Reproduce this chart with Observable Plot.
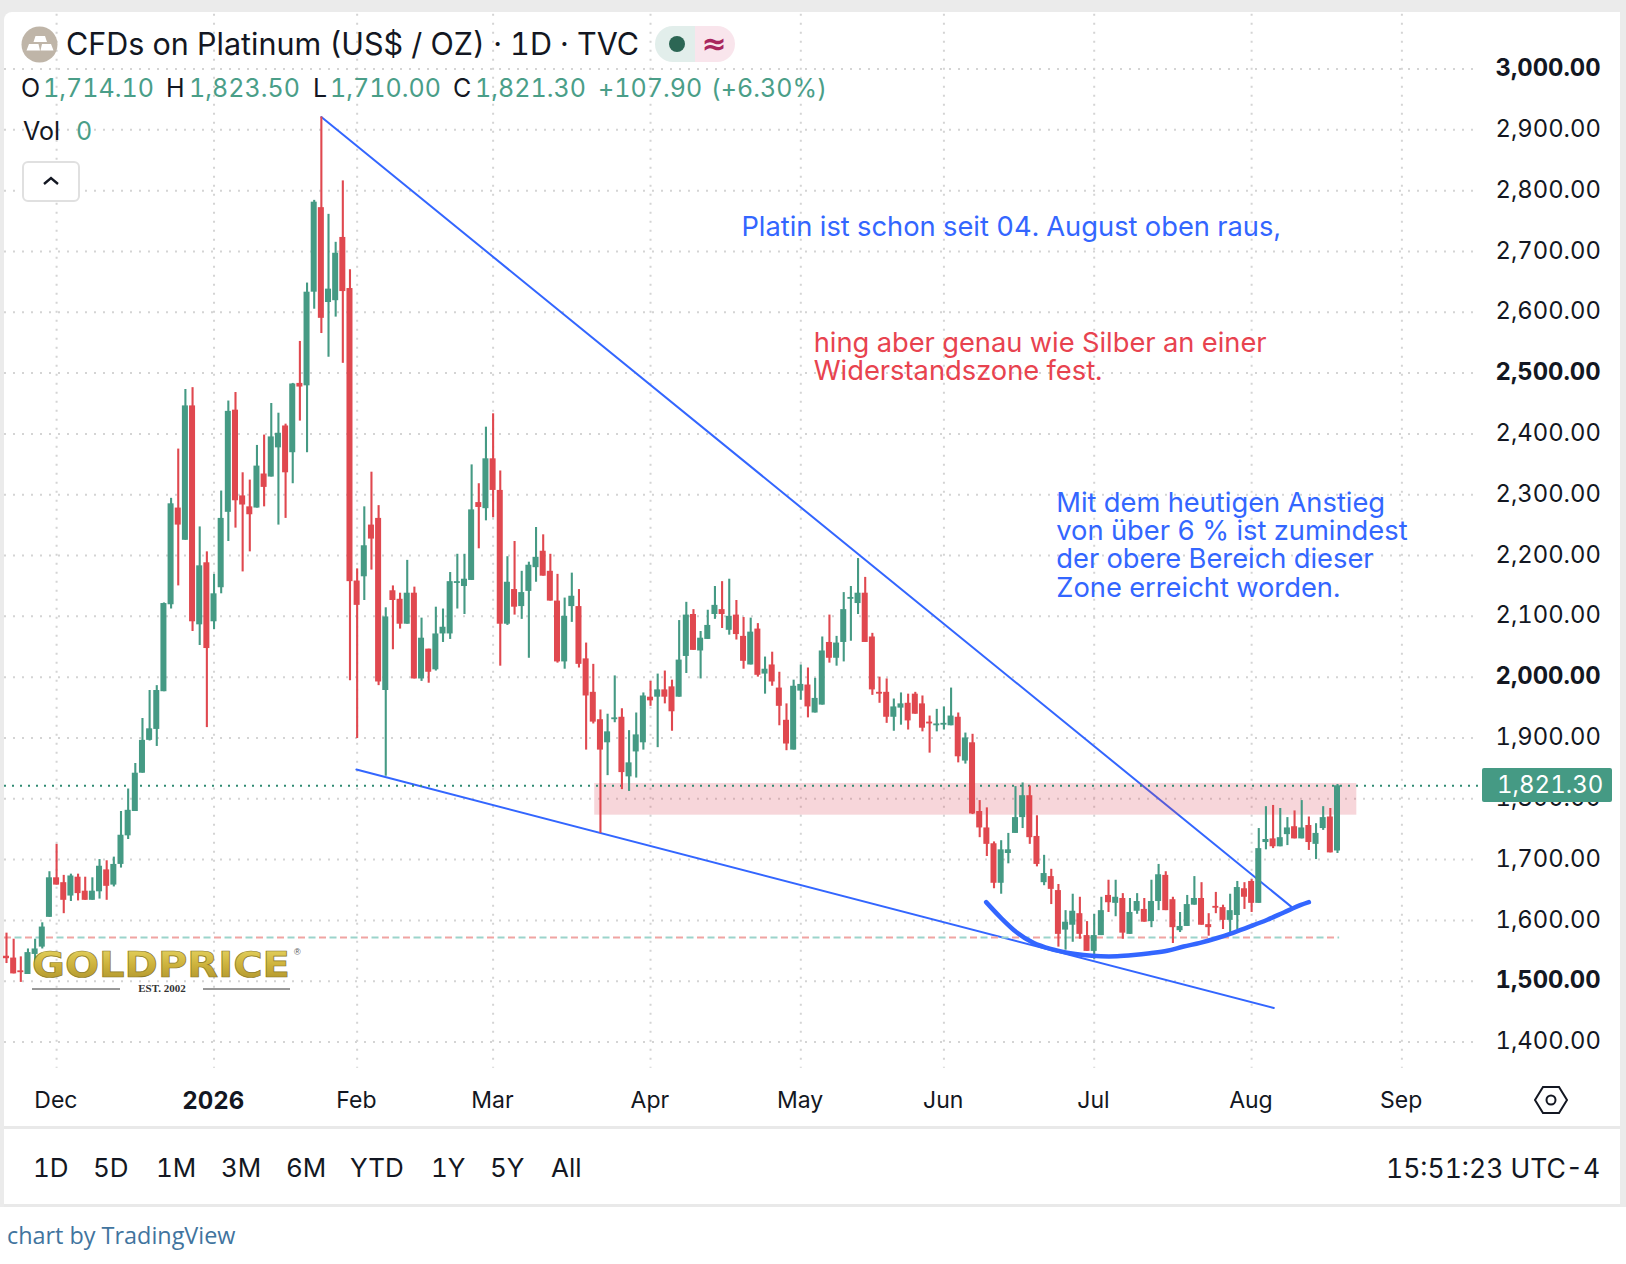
<!DOCTYPE html>
<html><head><meta charset="utf-8">
<script src="https://cdn.jsdelivr.net/npm/d3@7"></script>
<script src="https://cdn.jsdelivr.net/npm/@observablehq/plot@0.6"></script>
<style>
html,body{margin:0;padding:0;background:#fff}
body{font-family:Inter,"Liberation Sans",sans-serif;color:#131722;font-variant-numeric:tabular-nums}
#page{position:relative;width:1626px;height:1264px;overflow:hidden}
#frame{position:absolute;left:0;top:0;width:1626px;height:1207px;background:#ebebeb}
#panel{position:absolute;left:4px;top:12px;width:1616px;height:1193px;background:#fff;border-top-left-radius:8px}
#chart{position:absolute;left:0;top:0}
#chart svg{background:transparent !important;display:block}
.t{position:absolute;white-space:nowrap;line-height:1}
.sep{position:absolute;left:4px;width:1616px;height:3px;background:#e9e9e9}
.g{color:#4a9e88}
</style></head>
<body><div id="page">
<div id="frame"><div id="panel"></div></div>
<div id="chart"></div>
<div class="sep" style="top:1126px"></div>

<svg class="t" style="left:21px;top:26px" width="37" height="37" viewBox="0 0 37 37">
<circle cx="18.5" cy="18.5" r="18" fill="#bfb5a8"/>
<path d="M14.5 10H24L26 16H12.5ZM8 18H17.5L19 24.5H5.5ZM21 18H30L32.5 24.5H19.5Z" fill="#fff"/>
</svg>
<div class="t" id="title" style="left:66px;top:29px;font-size:30.5px">CFDs on Platinum (US$ / OZ) · 1D · TVC</div>
<svg class="t" style="left:655px;top:26px" width="80" height="36">
<path d="M18 0H40V36H18A18 18 0 0 1 18 0Z" fill="#e2eeeb"/>
<path d="M40 0H62A18 18 0 0 1 62 36H40Z" fill="#f9e5ec"/>
<circle cx="22" cy="18" r="8" fill="#2c6654"/>
<text x="59" y="28" font-size="30" font-weight="700" text-anchor="middle" fill="#a8265e" font-family="DejaVu Sans">≈</text>
</svg>
<div id="ohlc"></div>
<svg class="t" style="left:22px;top:161px" width="58" height="41">
<rect x="1" y="1" width="56" height="39" rx="5" fill="#fff" stroke="#e0e0e0" stroke-width="2"/>
<path d="M22 23l7-6 7 6" fill="none" stroke="#131722" stroke-width="2.4"/>
</svg>

<div class="t" style="left:1482px;top:768px;width:130px;height:34px;background:#459a84;border-radius:2px"></div>
<div class="t" id="lastLabel" style="left:1497px;top:773px;font-size:24px;color:#fff"></div>

<svg class="t" style="left:1533px;top:1084px" width="36" height="32" viewBox="0 0 36 32">
<path d="M10 3H26L34 16L26 29H10L2 16Z" fill="none" stroke="#131722" stroke-width="2"/>
<circle cx="18" cy="16" r="4.5" fill="none" stroke="#131722" stroke-width="2"/>
</svg>

<svg class="t" style="left:26px;top:940px" width="280" height="60">
<defs><linearGradient id="gold" x1="0" y1="0" x2="0" y2="1">
<stop offset="0" stop-color="#e8d764"/><stop offset=".5" stop-color="#cdb23c"/><stop offset="1" stop-color="#a98f2a"/></linearGradient></defs>
<text x="6" y="37" font-family="DejaVu Sans" font-weight="700" font-size="35" textLength="258" lengthAdjust="spacingAndGlyphs" fill="url(#gold)" stroke="#8c7a26" stroke-width=".7">GOLDPRICE</text>
<text x="268" y="15" font-size="9" font-family="Liberation Sans" fill="#555">®</text>
<text x="136" y="52" font-size="11" text-anchor="middle" font-family="Liberation Serif" font-weight="700" fill="#333">EST. 2002</text>
<line x1="6" x2="94" y1="49" y2="49" stroke="#333" stroke-width="1"/>
<line x1="177" x2="264" y1="49" y2="49" stroke="#333" stroke-width="1"/>
</svg>

<div class="sep" style="top:1204px"></div>
<div id="ranges"></div>
<div class="t" style="left:1386px;top:1155px;font-size:26.5px">15:51:23 UTC-4</div>
<div class="t" style="left:7px;top:1224px;font-family:'Open Sans';font-size:23.4px;color:#41749e">chart by TradingView</div>
</div>
<script>
const opens=[1541,1538,1517,1511,1544,1556,1605,1670,1662,1640,
1671,1648,1633,1647,1683,1658,1692,1739,1779,1842,
1896,1914,1976,2119,2278,2225,2446,2086,2188,2091,
2147,2271,2439,2298,2280,2278,2334,2329,2377,2413,
2369,2483,2479,2633,2772,2616,2619,2723,2639,2158,
2165,2250,2261,1978,2142,2128,2087,2138,1997,2046,
2012,2071,2071,2154,2149,2159,2287,2277,2359,2307,
2087,2144,2116,2141,2180,2207,2174,2125,2025,2116,
2116,2030,1975,1930,1892,1930,1934,1836,1877,1892,
1967,1967,1979,1984,1967,2034,2103,2043,2062,2103,
2111,2077,2102,2067,2020,2079,2005,2020,1982,1929,
1880,1977,1987,1941,1954,2057,2031,2057,2128,2121,
2138,2066,1975,1975,1934,1949,1957,1972,1956,1926,
1920,1921,1920,1934,1862,1892,1779,1752,1726,1661,
1710,1743,1769,1805,1738,1662,1672,1649,1584,1592,
1611,1575,1549,1575,1641,1628,1636,1577,1615,1618,
1598,1631,1674,1634,1583,1590,1625,1636,1593,1623,
1621,1600,1608,1652,1664,1628,1728,1734,1721,1741,
1754,1734,1756,1725,1751,1770,1714.1];
const closes=[1537,1512,1514,1547,1553,1589,1670,1658,1633,1673,
1644,1633,1648,1689,1656,1692,1740,1781,1842,1896,
1915,1978,2121,2285,2250,2446,2091,2183,2047,2137,
2261,2437,2290,2283,2267,2347,2312,2395,2401,2336,
2482,2477,2633,2781,2590,2638,2697,2634,2157,2118,
2216,2227,1992,2099,2126,2087,2138,1997,2064,2008,
2071,2082,2157,2157,2161,2275,2279,2359,2307,2087,
2156,2115,2139,2184,2197,2166,2125,2025,2100,2133,
2021,1969,1926,1880,1910,1933,1843,1859,1905,1969,
1961,1979,1967,1943,2028,2102,2044,2064,2085,2118,
2103,2100,2070,2026,2074,2003,2013,1992,1952,1890,
1985,1988,1951,1965,2043,2031,2056,2111,2131,2138,
2057,1979,1972,1934,1951,1956,1928,1939,1916,1923,
1923,1924,1936,1869,1900,1775,1752,1725,1661,1716,
1716,1769,1805,1736,1692,1677,1651,1577,1597,1615,
1577,1549,1575,1616,1629,1638,1579,1613,1631,1597,
1631,1675,1616,1588,1590,1626,1636,1592,1588,1620,
1600,1616,1654,1638,1628,1718,1733,1721,1736,1752,
1734,1752,1728,1743,1769,1711,1821.3];
const highs=[1579,1569,1540,1553,1569,1596,1680,1725,1674,1676,
1676,1671,1670,1700,1698,1704,1779,1816,1858,1932,
1978,1986,2122,2294,2375,2473,2476,2247,2206,2169,
2306,2454,2468,2336,2324,2381,2398,2450,2434,2416,
2483,2552,2648,2784,2921,2761,2715,2816,2670,2178,
2280,2337,2282,2114,2150,2138,2192,2148,2097,2046,
2115,2112,2172,2202,2202,2349,2318,2411,2433,2339,
2198,2223,2174,2189,2246,2234,2202,2169,2130,2171,
2144,2056,2021,1946,1939,2002,1948,1912,1941,1974,
1993,2005,2010,1995,2093,2123,2111,2075,2110,2149,
2157,2161,2126,2098,2097,2088,2033,2041,2008,1956,
1995,2020,2015,1998,2066,2102,2067,2139,2149,2195,
2164,2072,2000,1997,1964,1974,1972,1975,1969,1936,
1947,1951,1982,1941,1908,1906,1797,1785,1729,1731,
1743,1820,1826,1821,1772,1707,1684,1659,1616,1643,
1638,1598,1610,1638,1666,1666,1644,1636,1644,1636,
1666,1692,1680,1638,1613,1641,1672,1662,1611,1646,
1625,1643,1664,1662,1667,1751,1787,1789,1784,1769,
1780,1797,1770,1759,1787,1784,1823.5];
const lows=[1529,1512,1498,1511,1530,1553,1605,1658,1611,1631,
1632,1633,1633,1635,1633,1655,1686,1733,1779,1842,
1895,1886,1976,2112,2150,2225,2075,2052,1917,2078,
2137,2223,2245,2173,2206,2278,2280,2329,2250,2261,
2318,2421,2369,2605,2565,2526,2592,2516,1994,1899,
2126,2176,1986,1837,2045,2079,2087,1997,1993,1990,
2010,2057,2062,2112,2103,2159,2211,2257,2262,2018,
2085,2102,2095,2031,2156,2166,2125,2023,2013,2090,
2015,1880,1923,1743,1838,1925,1815,1812,1834,1880,
1952,1884,1956,1911,1967,2006,2044,1997,2062,2095,
2080,2069,2061,2013,2020,2000,1972,1985,1920,1879,
1880,1962,1933,1941,1954,2023,2018,2025,2059,2103,
2057,1970,1957,1924,1911,1921,1913,1939,1910,1875,
1910,1913,1920,1859,1857,1774,1736,1705,1652,1643,
1693,1743,1751,1725,1688,1657,1626,1556,1551,1564,
1569,1549,1536,1575,1613,1606,1569,1577,1610,1597,
1588,1616,1616,1562,1580,1590,1625,1592,1574,1611,
1585,1577,1585,1618,1613,1628,1716,1718,1721,1723,
1734,1734,1715,1700,1748,1711,1710];

const yRegular=[1400,1600,1700,1800,1900,2100,2200,2300,2400,2600,2700,2800,2900];
const yBold=[1500,2000,2500,3000];
const monthIdx=[7,49,68,90,111,131,152,174,195];
const monthLabels=["Dec","Feb","Mar","Apr","May","Jun","Jul","Aug","Sep"];
const yearIdx=[29];
const yearLabels=["2026"];

const lastPrice=1821.3;
const prevLine=1572;
const zoneIdx=[82.2,188.7];
const zonePrice=[1773,1825];

const upperTrendIdx=[44,179.7];
const upperTrendPrice=[2921,1621];
const lowerTrendIdx=[48.9,177.1];
const lowerTrendPrice=[1848,1456];
const arcIdx=[136.9,138.9,141.2,143.5,145.9,148.2,150.5,152.9,155.2,157.5,159.8,162.2,164.5,166.8,169.2,171.5,173.8,176.2,178.5,180.8,182];
const arcPrice=[1630,1605,1580,1563,1553,1547,1543,1541,1541,1543,1546,1550,1557,1563,1571,1580,1590,1601,1613,1625,1630];

const noteText=["Platin ist schon seit 04. August oben raus,","hing aber genau wie Silber an einer","Widerstandszone fest.","Mit dem heutigen Anstieg","von über 6 % ist zumindest","der obere Bereich dieser","Zone erreicht worden."];
const noteIdx=[102.7,112.8,112.8,146.7,146.7,146.7,146.7];
const notePrice=[2742,2551,2505,2288,2242,2195,2148];
const noteColor=["#3366ff","#e8434f","#e8434f","#3366ff","#3366ff","#3366ff","#3366ff"];

const ohlcLabels=[["O",21,"k"],["1,714.10",43,"g"],["H",166,"k"],["1,823.50",189,"g"],["L",313,"k"],["1,710.00",330,"g"],["C",453,"k"],["1,821.30",475,"g"],["+107.90",598,"g"],["(+6.30%)",711,"g"]];
const rangeLabels=[["1D",33],["5D",93],["1M",156],["3M",221],["6M",286],["YTD",350],["1Y",431],["5Y",490],["All",551]];

const UP="#459a84",DOWN="#e0484f",BLUE="#3366ff",GRID="#d4d4d4";
const candles=opens.map((o,i)=>({i,o,c:closes[i],h:highs[i],l:lows[i],col:closes[i]>=o?UP:DOWN}));
const gridLeft=-0.28,gridRight=205.7,gridTop=3090,gridBottom=1357;
const priceFmt=d=>d3.format(",.2f")(d);

const plot=Plot.plot({
  width:1626,height:1264,
  marginLeft:0,marginTop:0,marginRight:136,marginBottom:184,
  x:{type:"linear",domain:[0,195],range:[6,1401.4]},
  y:{type:"linear",domain:[1400,3000],range:[1041.5,68.5]},
  style:{fontFamily:"Inter",background:"transparent",color:"#131722",fontVariantNumeric:"tabular-nums"},
  marks:[
    Plot.ruleY([...yRegular,...yBold],{x1:gridLeft,x2:gridRight,stroke:GRID,strokeWidth:2,strokeDasharray:"2 7"}),
    Plot.ruleX([...monthIdx,...yearIdx],{y1:gridTop,y2:gridBottom,stroke:GRID,strokeWidth:2,strokeDasharray:"2 7"}),
    Plot.line(upperTrendIdx.map((x,i)=>({x,y:upperTrendPrice[i]})),{x:"x",y:"y",stroke:BLUE,strokeWidth:2}),
    Plot.line(lowerTrendIdx.map((x,i)=>({x,y:lowerTrendPrice[i]})),{x:"x",y:"y",stroke:BLUE,strokeWidth:2}),
    Plot.rect([{}],{x1:zoneIdx[0],x2:zoneIdx[1],y1:zonePrice[0],y2:zonePrice[1],fill:"#db3f52",fillOpacity:.21}),
    Plot.ruleY([prevLine],{x1:gridLeft,x2:186.3,stroke:"#f0a4a2",strokeWidth:2,strokeDasharray:"7 14"}),
    Plot.ruleY([prevLine],{x1:gridLeft+1.47,x2:186.3,stroke:"#9bd4cb",strokeWidth:2,strokeDasharray:"7 14"}),
    Plot.ruleY([lastPrice],{x1:gridLeft,x2:gridRight,stroke:"#2f8a72",strokeWidth:2,strokeDasharray:"2 6"}),
    Plot.ruleX(candles,{x:"i",y1:"l",y2:"h",stroke:"col",strokeWidth:2.1}),
    Plot.rect(candles,{x1:d=>d.i-.42,x2:d=>d.i+.42,y1:"o",y2:"c",fill:"col"}),
    Plot.line(arcIdx.map((x,i)=>({x,y:arcPrice[i]})),{x:"x",y:"y",stroke:BLUE,strokeWidth:4.5,curve:"catmull-rom"}),
    Plot.text(noteText,{x:(d,i)=>noteIdx[i],y:(d,i)=>notePrice[i],text:d=>d,fill:(d,i)=>noteColor[i],textAnchor:"start",lineAnchor:"middle",fontSize:27.3,dy:1}),
    Plot.axisY({anchor:"right",ticks:yRegular,tickSize:0,tickPadding:5,label:null,textAnchor:"start",fontSize:23.8,dy:-0.5,tickFormat:priceFmt}),
    Plot.axisY({anchor:"right",ticks:yBold,tickSize:0,tickPadding:5,label:null,textAnchor:"start",fontSize:23.8,dy:-0.5,fontWeight:700,tickFormat:priceFmt}),
    Plot.axisX({anchor:"bottom",ticks:monthIdx,tickSize:0,tickPadding:11,label:null,fontSize:23,dx:-0.7,tickFormat:d=>monthLabels[monthIdx.indexOf(d)]}),
    Plot.axisX({anchor:"bottom",ticks:yearIdx,tickSize:0,tickPadding:11,label:null,fontSize:24,dx:-0.7,fontWeight:700,tickFormat:d=>yearLabels[yearIdx.indexOf(d)]})
  ]
});
document.getElementById("chart").append(plot);
document.getElementById("lastLabel").textContent=priceFmt(lastPrice);

const ohlc=document.getElementById("ohlc");
for(const [s,x,c] of ohlcLabels){const e=document.createElement("div");e.className="t"+(c==="g"?" g":"");e.textContent=s;e.style.cssText=`left:${x}px;top:76px;font-size:25px;letter-spacing:.05px`;ohlc.append(e);}
for(const [s,x,c] of [["Vol",23,"k"],["0",76,"g"]]){const e=document.createElement("div");e.className="t"+(c==="g"?" g":"");e.textContent=s;e.style.cssText=`left:${x}px;top:119px;font-size:25px`;ohlc.append(e);}
const ranges=document.getElementById("ranges");
for(const [s,x] of rangeLabels){const e=document.createElement("div");e.className="t";e.textContent=s;e.style.cssText=`left:${x}px;top:1155px;font-size:26px`;ranges.append(e);}
</script>
</body></html>
